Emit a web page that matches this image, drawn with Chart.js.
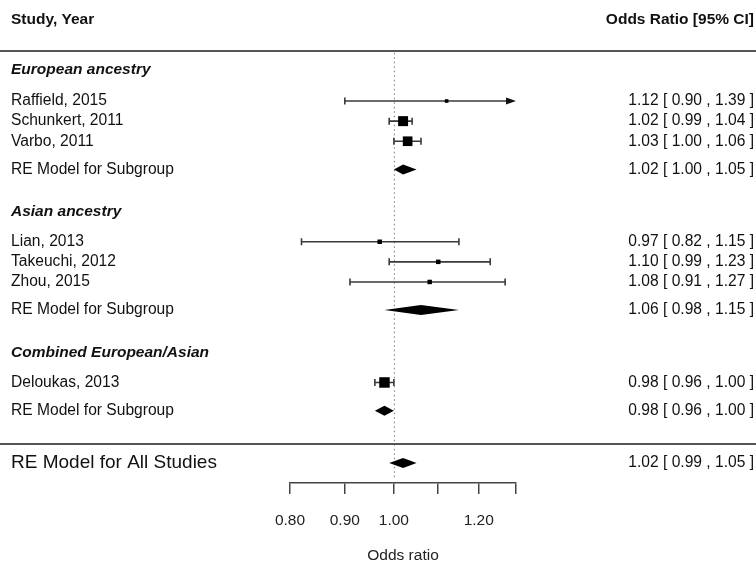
<!DOCTYPE html>
<html>
<head>
<meta charset="utf-8">
<script src="https://cdn.jsdelivr.net/npm/chart.js@4"></script>
<style>
  html, body { margin: 0; padding: 0; background: #fff; }
  #wrap { width: 756px; height: 563px; }
</style>
</head>
<body>
<div id="wrap"><canvas id="forest" width="756" height="563"></canvas></div>
<script>
// ---- Data
const studies   = ['Raffield, 2015','Schunkert, 2011','Varbo, 2011','Lian, 2013','Takeuchi, 2012','Zhou, 2015','Deloukas, 2013'];
const studyRows = [0, 1, 2, 7, 8, 9, 14];
const studyOR   = [1.12, 1.02, 1.03, 0.97, 1.10, 1.08, 0.98];
const studyLo   = [0.90, 0.99, 1.00, 0.82, 0.99, 0.91, 0.96];
const studyHi   = [1.39, 1.04, 1.06, 1.15, 1.23, 1.27, 1.00];
const studyWeight = [2, 13.6, 13, 3.6, 3.6, 3.6, 14.5];   // relative weights (square size)

const groups     = ['European ancestry', 'Asian ancestry', 'Combined European/Asian'];
const groupRows  = [-1.55, 5.5, 12.5];
const subRows    = [3.4, 10.4, 15.4];
const subOR      = [1.02, 1.06, 0.98];
const subLo      = [1.00, 0.98, 0.96];
const subHi      = [1.05, 1.15, 1.00];

const allLabel = 'RE Model for All Studies';
const allRow = 18;
const allOR = 1.02, allLo = 0.99, allHi = 1.05;

const xTicks   = [0.8, 0.9, 1.0, 1.1, 1.2, 1.3];
const xLabeled = [0.8, 0.9, 1.0, 1.2];
const xMin = 0.8, xMax = 1.3;

// ---- Helpers
const FONT = '"Liberation Sans", Arial, sans-serif';
const fmt = v => v.toFixed(2);
const ciText = (e, l, u) => fmt(e) + ' [ ' + fmt(l) + ' , ' + fmt(u) + ' ]';
const side = w => 2.5 + w * 0.55;

const forestPlugin = {
  id: 'forest',
  beforeDatasetsDraw(chart) {
    const {ctx, scales: {x, y}} = chart;
    ctx.save();
    // null line
    ctx.strokeStyle = '#777';
    ctx.lineWidth = 1;
    ctx.setLineDash([1.5, 3]);
    ctx.beginPath();
    ctx.moveTo(x.getPixelForValue(1) + 0.5, y.getPixelForValue(-2.4));
    ctx.lineTo(x.getPixelForValue(1) + 0.5, y.getPixelForValue(18.85));
    ctx.stroke();
    ctx.setLineDash([]);

    // confidence intervals
    ctx.strokeStyle = '#3a3a3a';
    ctx.fillStyle = '#111';
    ctx.lineWidth = 1.6;
    studies.forEach((s, i) => {
      const py = y.getPixelForValue(studyRows[i]);
      const x0 = x.getPixelForValue(Math.max(studyLo[i], xMin));
      const over = studyHi[i] > xMax;
      const x1 = x.getPixelForValue(Math.min(studyHi[i], xMax));
      ctx.beginPath();
      ctx.moveTo(x0, py); ctx.lineTo(over ? x1 - 8 : x1, py);
      ctx.moveTo(x0, py - 3.5); ctx.lineTo(x0, py + 3.5);
      if (!over) { ctx.moveTo(x1, py - 3.5); ctx.lineTo(x1, py + 3.5); }
      ctx.stroke();
      if (over) {
        ctx.beginPath();
        ctx.moveTo(x1, py); ctx.lineTo(x1 - 10, py - 3.5); ctx.lineTo(x1 - 10, py + 3.5);
        ctx.closePath(); ctx.fill();
      }
    });
    ctx.restore();
  },
  afterDatasetsDraw(chart) {
    const {ctx, scales: {x, y}, width} = chart;
    ctx.save();
    // diamonds
    const diamond = (row, est, lo, hi) => {
      const py = y.getPixelForValue(row);
      ctx.beginPath();
      ctx.moveTo(x.getPixelForValue(lo), py);
      ctx.lineTo(x.getPixelForValue(est), py - 5);
      ctx.lineTo(x.getPixelForValue(hi), py);
      ctx.lineTo(x.getPixelForValue(est), py + 5);
      ctx.closePath();
      ctx.fill();
    };
    ctx.fillStyle = '#000';
    subRows.forEach((r, i) => diamond(r, subOR[i], subLo[i], subHi[i]));
    diamond(allRow, allOR, allLo, allHi);

    // separator lines
    ctx.strokeStyle = '#555';
    ctx.lineWidth = 2;
    [-2.5, 17.05].forEach(r => {
      const py = Math.round(y.getPixelForValue(r));
      ctx.beginPath(); ctx.moveTo(0, py); ctx.lineTo(width, py); ctx.stroke();
    });

    // text columns
    const L = 11, R = 754;
    ctx.fillStyle = '#111';
    ctx.textBaseline = 'middle';
    ctx.font = 'bold 15.5px ' + FONT;
    ctx.textAlign = 'left';
    ctx.fillText('Study, Year', L, y.getPixelForValue(-4.05));
    ctx.textAlign = 'right';
    ctx.fillText('Odds Ratio [95% CI]', R, y.getPixelForValue(-4.05));

    ctx.font = 'italic bold 15.5px ' + FONT;
    ctx.textAlign = 'left';
    groups.forEach((g, i) => ctx.fillText(g, L, y.getPixelForValue(groupRows[i])));

    ctx.font = '15.6px ' + FONT;
    studies.forEach((s, i) => {
      const py = y.getPixelForValue(studyRows[i]);
      ctx.textAlign = 'left';  ctx.fillText(s, L, py);
      ctx.textAlign = 'right'; ctx.fillText(ciText(studyOR[i], studyLo[i], studyHi[i]), R, py);
    });
    subRows.forEach((r, i) => {
      const py = y.getPixelForValue(r);
      ctx.textAlign = 'left';  ctx.fillText('RE Model for Subgroup', L, py);
      ctx.textAlign = 'right'; ctx.fillText(ciText(subOR[i], subLo[i], subHi[i]), R, py);
    });
    const pa = y.getPixelForValue(allRow);
    ctx.textAlign = 'right'; ctx.fillText(ciText(allOR, allLo, allHi), R, pa);
    ctx.font = '19px ' + FONT;
    ctx.textAlign = 'left'; ctx.fillText(allLabel, L, pa);
    ctx.restore();
  }
};

new Chart(document.getElementById('forest'), {
  type: 'scatter',
  data: {
    datasets: [{
      data: studies.map((s, i) => ({ x: studyOR[i], y: studyRows[i] })),
      pointStyle: 'rect',
      pointRadius: studyWeight.map(w => side(w) / Math.SQRT2),
      pointHoverRadius: studyWeight.map(w => side(w) / Math.SQRT2),
      backgroundColor: '#000',
      borderWidth: 0
    }]
  },
  options: {
    responsive: false,
    animation: false,
    events: [],
    layout: { autoPadding: false, padding: { left: 290, right: 240, top: 0, bottom: -2 } },
    plugins: { legend: { display: false }, tooltip: { enabled: false } },
    scales: {
      x: {
        type: 'logarithmic',
        min: xMin, max: xMax,
        afterBuildTicks: s => { s.ticks = xTicks.map(v => ({ value: v })); },
        afterFit: s => { s.height = 82; },
        border: { display: true, color: '#444', width: 1.5 },
        grid: { drawOnChartArea: false, drawTicks: true, tickLength: 11, color: '#444', lineWidth: 1.5 },
        ticks: {
          autoSkip: false, maxRotation: 0, padding: 17,
          color: '#222', font: { family: FONT, size: 15.5 },
          callback: v => xLabeled.some(t => Math.abs(t - v) < 1e-9) ? v.toFixed(2) : ''
        },
        title: {
          display: true, text: 'Odds ratio', color: '#222',
          font: { family: FONT, size: 15.5 }, padding: { top: 0, bottom: 0 }
        }
      },
      y: {
        type: 'linear', reverse: true, min: -5.025, max: 19, display: false
      }
    }
  },
  plugins: [forestPlugin]
});
</script>
</body>
</html>
